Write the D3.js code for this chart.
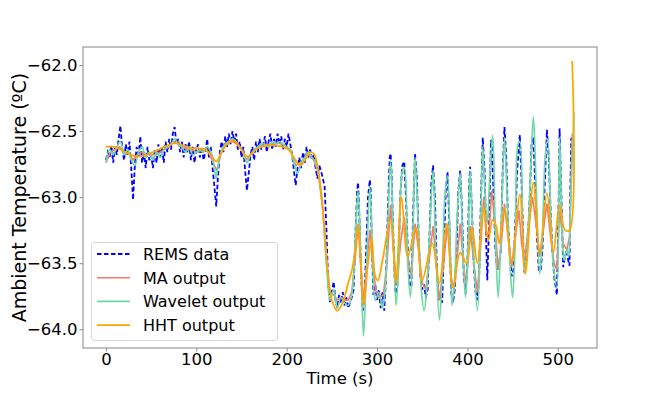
<!DOCTYPE html>
<html><head><meta charset="utf-8">
<script src="https://cdn.jsdelivr.net/npm/d3@7"></script>
<style>body{margin:0;background:#fff}svg{display:block}text{font-family:"DejaVu Sans",sans-serif}</style>
</head><body>
<svg id="c" width="664" height="399"></svg>
<script>
// ---------------- DATA ----------------
const xTicks = [0, 100, 200, 300, 400, 500];
const yTicks = [-64.0, -63.5, -63.0, -62.5, -62.0];
const seriesNames = ["REMS data", "MA output", "Wavelet output", "HHT output"];

const remsTime = [0,2,4,6,8,10,12,14,16,18,20,22,24,26,28,30,32,34,36,38,40,42,44,46,48,50,52,54,56,58,
60,62,64,66,68,70,72,74,76,78,80,82,84,86,88,90,92,94,96,98,100,102,104,106,108,110,112,114,116,118,
120,122,124,126,128,130,132,134,136,138,140,142,144,146,148,150,152,154,156,158,160,162,164,166,168,170,172,174,176,178,
180,182,184,186,188,190,192,194,196,198,200,202,204,206,208,210,212,214,216,218,220,222,224,226,228,230,232,234,236,238,
240,242,244,246,
248,250,252,254,256,258,260,262,264,266,268,270,272,274,276,278,279,280,282,284,286,288,290,292,293,294,296,298,300,302,304,306,308,310,312,314,315,316,318,320,322,324,326,328,330,332,334,336,338,340,342,344,346,348,350,352,354,356,358,360,362,364,366,368,370,372,374,376,378,380,382,384,386,388,390,392,394,396,398,400,402,403,405,407,409,411,413,415,417,419,421,422,424,426,427,429,431,433,435,437,439,441,443,445,447,449,451,453,455,458,460,462,463,465,467,469,471,473,475,477,479,481,483,485,488,490,492,494,496,499,501,502,504,506,508,510,512,513,514,515];
const remsValue = [-62.72,-62.66,-62.70,-62.61,-62.74,-62.62,-62.68,-62.56,-62.46,-62.63,-62.72,-62.60,-62.68,-62.58,-62.78,-63.02,-62.76,-62.62,-62.70,-62.54,
-62.74,-62.66,-62.78,-62.62,-62.72,-62.68,-62.78,-62.64,-62.74,-62.60,-62.70,-62.62,-62.74,-62.58,-62.66,-62.56,-62.64,-62.52,-62.47,-62.60,
-62.56,-62.66,-62.58,-62.70,-62.60,-62.66,-62.58,-62.72,-62.62,-62.74,-62.64,-62.60,-62.70,-62.62,-62.72,-62.66,-62.56,-62.70,-62.62,-62.78,
-62.92,-63.07,-62.84,-62.66,-62.58,-62.66,-62.54,-62.62,-62.52,-62.60,-62.50,-62.58,-62.52,-62.64,-62.58,-62.70,-62.62,-62.80,-62.95,-62.82,
-62.68,-62.62,-62.72,-62.58,-62.66,-62.56,-62.64,-62.60,-62.54,-62.66,-62.58,-62.52,-62.64,-62.56,-62.62,-62.52,-62.60,-62.54,-62.64,-62.56,
-62.62,-62.52,-62.60,-62.68,-62.80,-62.91,-62.78,-62.70,-62.78,-62.66,-62.74,-62.62,-62.70,-62.64,-62.72,-62.68,-62.78,-62.86,-62.76,-62.80,
-62.86,-62.92,-63.25,-63.66,
-63.80,-63.72,-63.64,-63.78,-63.84,-63.74,-63.80,-63.72,-63.82,-63.76,-63.84,-63.80,-63.76,-63.70,-63.30,-62.95,-62.89,-63.05,-63.50,-63.86,
-63.78,-63.40,-63.00,-62.87,-62.95,-63.30,-63.74,-63.66,-63.78,-63.70,-63.84,-63.72,-63.86,-63.60,-63.10,-62.70,-62.67,-62.80,-63.30,-63.70,
-63.73,-63.40,-62.95,-62.76,-62.73,-63.00,-63.40,-63.66,-63.68,-63.10,-62.67,-62.85,-63.30,-63.60,-63.70,-63.66,-63.76,-63.70,-63.30,-62.90,
-62.76,-63.00,-63.50,-63.78,-63.74,-63.80,-63.40,-62.95,-62.81,-63.20,-63.72,-63.80,-63.70,-63.40,-62.95,-62.80,-63.10,-63.60,-63.73,-63.50,
-62.90,-62.77,-63.10,-63.50,-63.72,-63.78,-63.60,-63.00,-62.55,-62.80,-63.40,-63.63,-63.20,-62.57,-62.60,-63.00,-63.40,-63.55,-63.50,-63.40,
-62.80,-62.47,-62.70,-63.20,-63.45,-63.60,-63.55,-63.20,-62.80,-62.53,-62.90,-63.40,-63.57,-63.45,-63.30,-63.00,-62.60,-62.55,-62.90,-63.30,
-63.55,-63.56,-63.40,-63.00,-62.49,-62.70,-63.10,-63.40,-63.60,-63.74,-63.00,-62.48,-63.00,-63.53,-63.45,-63.40,-63.50,-63.52,-62.90,-62.55];

const maTime = [0,5,10,15,20,25,30,35,40,45,50,55,60,65,70,75,80,85,90,95,100,105,110,115,120,123,126,130,135,140,145,150,155,160,165,170,175,180,185,190,195,200,205,210,215,220,225,230,235,240,244,248,252,256,260,264,268,272,276,279,282,285,288,292,295,299,303,307,311,315,318,322,326,330,334,338,342,346,350,354,358,362,366,369,373,378,382,385,388,392,396,399,403,407,411,414,418,421,424,427,431,434,437,441,445,449,452,457,460,463,467,472,476,480,484,488,492,496,499,502,506,510,513,516];
const maValue = [-62.74,-62.66,-62.64,-62.62,-62.66,-62.66,-62.72,-62.68,-62.66,-62.68,-62.68,-62.68,-62.66,-62.64,-62.62,-62.58,-62.60,-62.62,-62.64,-62.64,
-62.66,-62.65,-62.64,-62.68,-62.76,-62.80,-62.70,-62.62,-62.58,-62.58,-62.60,-62.64,-62.72,-62.68,-62.64,-62.62,-62.61,-62.60,-62.60,-62.59,
-62.60,-62.62,-62.66,-62.76,-62.74,-62.70,-62.68,-62.72,-62.82,-63.10,-63.50,-63.72,-63.74,-63.78,-63.76,-63.78,-63.78,-63.72,-63.45,-63.20,
-63.50,-63.80,-63.55,-63.25,-63.50,-63.72,-63.76,-63.74,-63.50,-63.06,-63.40,-63.65,-63.35,-63.15,-63.45,-63.60,-63.20,-63.40,-63.65,-63.70,
-63.45,-63.22,-63.55,-63.78,-63.55,-63.20,-63.60,-63.72,-63.50,-63.20,-63.55,-63.65,-63.22,-63.50,-63.72,-63.45,-63.00,-63.30,-63.25,-62.95,
-63.25,-63.55,-63.40,-63.05,-63.30,-63.53,-63.35,-63.10,-63.35,-63.50,-63.25,-63.00,-63.20,-63.45,-63.25,-63.05,-63.30,-63.50,-63.55,-63.10,
-63.35,-63.40,-63.30,-62.52];

const waveletTime = [0,4,8,12,16,20,24,28,32,36,40,44,48,52,56,60,64,68,72,76,80,84,88,92,96,100,104,108,112,116,120,122,124,128,132,136,140,144,148,152,156,160,164,168,172,176,180,184,188,192,196,200,204,208,212,216,220,224,228,232,236,240,244,248,252,256,260,264,268,272,274,276,279,282,285,288,292,295,298,302,306,309,312,315,318,321,324,328,330,334,337,340,342,345,349,352,355,358,362,365,369,372,375,378,381,383,386,389,392,395,398,401,403,406,411,414,417,419,422,425,428,431,434,437,441,444,447,450,453,456,458,461,463,466,470,473,476,480,483,486,489,492,495,499,502,505,507,510,512,514,516,518];
const waveletValue = [-62.74,-62.64,-62.68,-62.62,-62.58,-62.68,-62.64,-62.72,-62.76,-62.66,-62.62,-62.70,-62.66,-62.72,-62.66,-62.70,-62.64,-62.62,-62.60,-62.56,
-62.60,-62.62,-62.66,-62.62,-62.68,-62.66,-62.64,-62.66,-62.62,-62.66,-62.78,-62.86,-62.76,-62.64,-62.60,-62.58,-62.56,-62.58,-62.62,-62.66,
-62.74,-62.68,-62.64,-62.62,-62.60,-62.60,-62.62,-62.58,-62.60,-62.58,-62.60,-62.62,-62.64,-62.74,-62.82,-62.74,-62.70,-62.66,-62.70,-62.74,
-62.86,-63.10,-63.50,-63.78,-63.70,-63.84,-63.76,-63.80,-63.82,-63.74,-63.60,-63.30,-62.95,-63.45,-64.05,-63.60,-62.92,-63.40,-63.78,-63.72,
-63.84,-63.70,-63.20,-62.72,-63.30,-63.82,-63.50,-62.80,-62.78,-63.50,-63.76,-63.20,-62.70,-63.10,-63.70,-63.86,-63.70,-63.30,-62.80,-63.40,
-63.93,-63.60,-63.00,-62.84,-63.40,-63.82,-63.60,-63.10,-62.82,-63.40,-63.76,-63.30,-62.80,-63.30,-63.86,-63.40,-62.62,-62.90,-63.20,-62.80,
-62.53,-63.30,-63.76,-63.30,-62.55,-63.00,-63.50,-63.76,-63.30,-62.60,-62.58,-63.20,-63.57,-63.40,-62.80,-62.39,-62.90,-63.58,-63.30,-62.70,
-62.56,-63.10,-63.50,-63.69,-62.55,-63.30,-63.48,-63.40,-63.45,-63.10,-62.70,-62.36];

const hhtTime = [0,8,16,24,32,40,48,56,64,72,78,86,94,102,110,116,122,128,134,141,148,155,160,166,172,180,188,196,202,208,215,220,226,230,234,238,242,246,250,256,262,268,272,276,279,282,285,290,294,298,301,306,315,321,327,334,343,350,361,369,377,384,392,399,405,411,418,423,428,432,435,441,449,458,464,473,480,488,495,502,508,513,516];
const hhtValue = [-62.62,-62.62,-62.64,-62.67,-62.69,-62.69,-62.67,-62.65,-62.62,-62.60,-62.59,-62.61,-62.63,-62.63,-62.64,-62.68,-62.73,-62.66,-62.60,-62.57,
-62.62,-62.69,-62.68,-62.64,-62.62,-62.61,-62.61,-62.62,-62.64,-62.70,-62.76,-62.72,-62.66,-62.67,-62.76,-62.95,-63.25,-63.60,-63.78,-63.86,
-63.80,-63.65,-63.56,-63.40,-63.21,-63.50,-63.82,-63.50,-63.31,-63.60,-63.63,-63.48,-63.17,-63.65,-63.00,-63.45,-63.23,-63.63,-63.35,-63.65,
-63.20,-63.68,-63.42,-63.50,-63.23,-63.50,-63.08,-63.33,-63.17,-63.22,-63.35,-63.08,-63.50,-62.98,-63.58,-62.89,-63.42,-62.97,-63.42,-63.06,
-63.25,-63.25,-61.97];

// ---------------- CHART ----------------
const W = 664, H = 399;
const M = {left: 83, right: 597, top: 47, bottom: 348};
const svg = d3.select("#c");
svg.append("rect").attr("width", W).attr("height", H).attr("fill", "#fff");

const x = d3.scaleLinear().domain([-25.4, 543.4]).range([M.left, M.right]);
const y = d3.scaleLinear().domain([-64.142, -61.864]).range([M.bottom, M.top]);

const zip = (t, v) => t.map((d, i) => [d, v[i]]);
const lineLin = d3.line().x(d => x(d[0])).y(d => y(d[1]));
const lineSmooth = d3.line().x(d => x(d[0])).y(d => y(d[1])).curve(d3.curveCatmullRom.alpha(0.5));

const styles = [
  {color: "#0000ff", width: 1.8, dash: "4.5,2.5"},
  {color: "#f47a6c", width: 1.6, dash: null},
  {color: "#6fd8a6", width: 1.7, dash: null},
  {color: "#ffa500", width: 1.8, dash: null}
];

const g = svg.append("g");
g.append("path").datum(zip(remsTime, remsValue)).attr("d", lineLin)
  .attr("fill", "none").attr("stroke", styles[0].color).attr("stroke-width", styles[0].width).attr("stroke-dasharray", styles[0].dash);
g.append("path").datum(zip(maTime, maValue)).attr("d", lineLin)
  .attr("fill", "none").attr("stroke", styles[1].color).attr("stroke-width", styles[1].width);
g.append("path").datum(zip(waveletTime, waveletValue)).attr("d", lineSmooth)
  .attr("fill", "none").attr("stroke", styles[2].color).attr("stroke-width", styles[2].width);
g.append("path").datum(zip(hhtTime, hhtValue)).attr("d", lineSmooth)
  .attr("fill", "none").attr("stroke", styles[3].color).attr("stroke-width", styles[3].width);

// axes
const xAxis = svg.append("g").attr("transform", `translate(0,${M.bottom})`)
  .call(d3.axisBottom(x).tickValues(xTicks).tickFormat(d3.format("d")).tickSizeOuter(0).tickSize(3.5).tickPadding(1.5));
const yAxis = svg.append("g").attr("transform", `translate(${M.left},0)`)
  .call(d3.axisLeft(y).tickValues(yTicks).tickFormat(d3.format(".1f")).tickSizeOuter(0).tickSize(3.5).tickPadding(2));
[xAxis, yAxis].forEach(a => {
  a.select(".domain").remove();
  a.selectAll("line").attr("stroke", "#888");
  a.selectAll("text").attr("font-size", 16.5).attr("fill", "#000").attr("font-family", "DejaVu Sans");
});

// frame
svg.append("rect").attr("x", M.left).attr("y", M.top).attr("width", M.right - M.left).attr("height", M.bottom - M.top)
  .attr("fill", "none").attr("stroke", "#999").attr("stroke-width", 1.2);

// axis labels
svg.append("text").attr("x", (M.left + M.right) / 2).attr("y", 384).attr("text-anchor", "middle")
  .attr("font-size", 16.5).text("Time (s)");
svg.append("text").attr("transform", `translate(26,${(M.top + M.bottom) / 2}) rotate(-90)`).attr("text-anchor", "middle")
  .attr("font-size", 19).text("Ambient Temperature (ºC)");

// legend
const lg = svg.append("g");
lg.append("rect").attr("x", 91.5).attr("y", 242.5).attr("width", 186).attr("height", 98).attr("rx", 3)
  .attr("fill", "#fff").attr("fill-opacity", 0.8).attr("stroke", "#d6d6d6");
seriesNames.forEach((name, i) => {
  const cy = 254 + i * 23.7;
  lg.append("line").attr("x1", 97).attr("x2", 130).attr("y1", cy).attr("y2", cy)
    .attr("stroke", styles[i].color).attr("stroke-width", styles[i].width)
    .attr("stroke-dasharray", styles[i].dash);
  lg.append("text").attr("x", 143).attr("y", cy + 6).attr("font-size", 16).text(name);
});
</script>
</body></html>
